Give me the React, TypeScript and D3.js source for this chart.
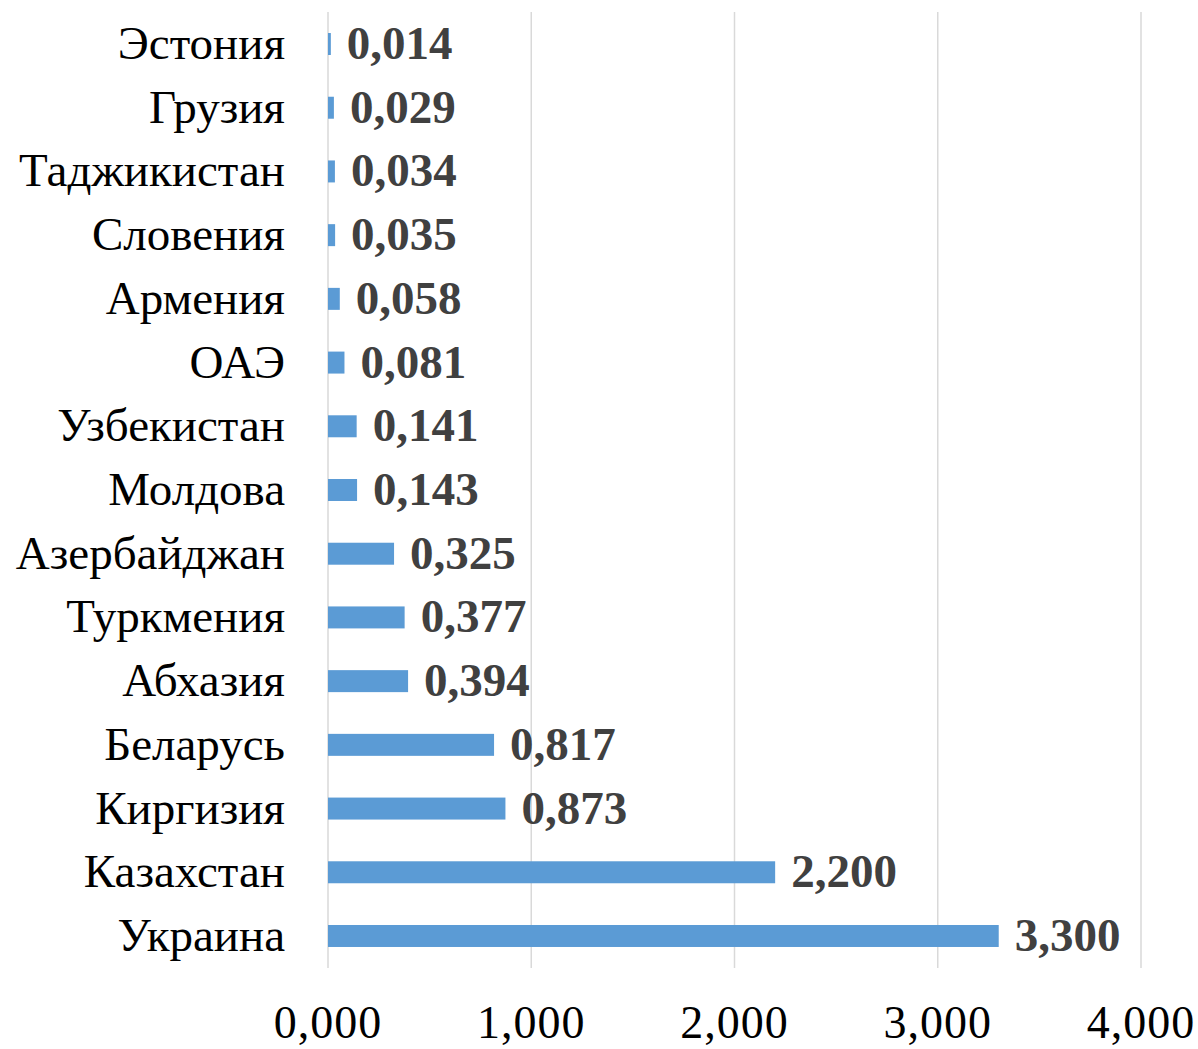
import React from "react";
import * as d3 from "d3";

const countries = [
  "Эстония", "Грузия", "Таджикистан", "Словения", "Армения", "ОАЭ", "Узбекистан",
  "Молдова", "Азербайджан", "Туркмения", "Абхазия", "Беларусь", "Киргизия", "Казахстан", "Украина",
];
const values = [0.014, 0.029, 0.034, 0.035, 0.058, 0.081, 0.141, 0.143, 0.325, 0.377, 0.394, 0.817, 0.873, 2.2, 3.3];
const ticks = [0, 1, 2, 3, 4];

const W = 1198, H = 1049;
const fmt = (v: number) => v.toFixed(3).replace(".", ",");

export default function App() {
  const x = d3.scaleLinear().domain([0, 4]).range([328, 1141]);
  const y = d3.scaleBand().domain(countries).range([12, 968]).paddingInner(0.655).paddingOuter(0.33);
  return (
    <svg width={W} height={H} style={{ position: "absolute", left: 0, top: 0, background: "#fff", fontFamily: "Liberation Serif" }}>
      <style>{`text { font-family: "Liberation Serif", serif; }`}</style>
      {ticks.map((t) => (
        <line key={"g" + t} x1={x(t)} x2={x(t)} y1={12} y2={968} stroke="#d9d9d9" strokeWidth={1.5} />
      ))}
      {countries.map((c, i) => {
        const yc = (y(c) as number) + y.bandwidth() / 2;
        return (
          <g key={c}>
            <rect x={x(0)} y={y(c)} width={x(values[i]) - x(0)} height={y.bandwidth()} fill="#5b9bd5" />
            <text x={285} y={yc + 15} textAnchor="end" fontSize={47} fill="#000">{c}</text>
            <text x={x(values[i]) + 16} y={yc + 15} fontSize={47} fontWeight="bold" fill="#404040">{fmt(values[i])}</text>
          </g>
        );
      })}
      {ticks.map((t) => (
        <text key={"t" + t} x={x(t)} y={1038} textAnchor="middle" fontSize={46} letterSpacing={1} fill="#000">{fmt(t)}</text>
      ))}
    </svg>
  );
}
